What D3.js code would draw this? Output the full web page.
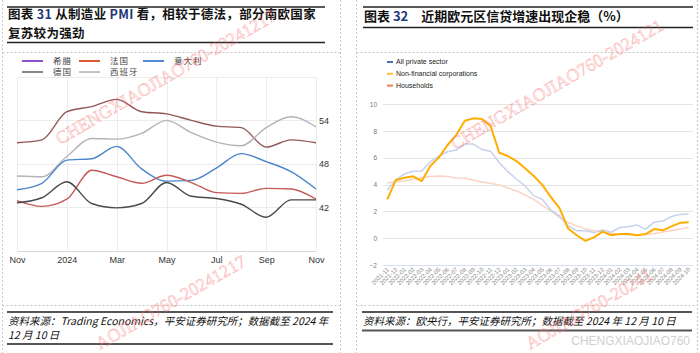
<!DOCTYPE html>
<html>
<head>
<meta charset="utf-8">
<script src="https://cdn.jsdelivr.net/npm/d3@7"></script>
<style>
  body { margin: 0; background: #fff; }
  svg { display: block; font-family: "Noto Sans CJK SC", "Liberation Sans", sans-serif; }
</style>
</head>
<body>
<div id="chart"></div>
<script>
// ---- 图表31 制造业PMI ----
const months = ["2023-11","2023-12","2024-01","2024-02","2024-03","2024-04","2024-05","2024-06","2024-07","2024-08","2024-09","2024-10","2024-11"]
const greece  = [50.9,51.3,55.2,55.9,56.9,55.2,54.9,54.0,53.2,53.0,50.3,51.3,50.9]
const spain   = [46.3,46.2,49.0,51.5,51.4,52.2,54.0,52.3,51.0,50.5,53.0,54.5,53.1]
const italy   = [44.4,45.3,48.5,48.7,50.4,47.3,45.6,45.7,47.4,49.4,48.3,46.9,44.5]
const france  = [42.9,42.1,43.1,47.1,46.2,45.3,46.4,45.4,44.0,43.9,44.6,44.5,43.1]
const germany = [42.6,43.3,45.5,42.5,41.9,42.5,45.4,43.5,43.2,42.4,40.6,43.0,43.0]
const pmiTicks = ["2023-11","2024-01","2024-03","2024-05","2024-07","2024-09","2024-11"]
const pmiTickLabels = ["Nov","2024","Mar","May","Jul","Sep","Nov"]
const pmiYTicks = [36,42,48,54,60]
const pmiYLabels = [42,48,54]

// ---- 图表32 欧元区信贷增速 ----
const creditMonths = ["2021-11","2021-12","2022-01","2022-02","2022-03","2022-04","2022-05","2022-06","2022-07","2022-08","2022-09","2022-10","2022-11","2022-12","2023-01","2023-02","2023-03","2023-04","2023-05","2023-06","2023-07","2023-08","2023-09","2023-10","2023-11","2023-12","2024-01","2024-02","2024-03","2024-04","2024-05","2024-06","2024-07","2024-08","2024-09","2024-10"]
const allPrivate = [3.6,4.35,4.8,5.0,5.02,5.71,6.14,6.46,6.58,7.03,7.03,6.62,6.5,5.64,4.97,4.42,3.9,3.18,2.9,2.1,1.66,0.92,0.55,0.55,0.42,0.62,0.45,0.8,0.85,0.98,0.68,1.2,1.28,1.62,1.78,1.8]
const nonFinancial = [2.9,4.35,4.52,4.62,4.27,5.39,6.04,6.96,7.7,8.77,8.95,8.9,8.37,6.38,6.14,5.76,5.22,4.65,3.98,3.06,2.24,0.72,0.22,-0.2,0.06,0.49,0.22,0.31,0.32,0.22,0.31,0.68,0.59,0.88,1.15,1.2]
const households = [4.15,4.2,4.27,4.4,4.52,4.6,4.65,4.6,4.5,4.47,4.35,4.2,4.1,3.98,3.75,3.53,3.23,2.9,2.45,2.04,1.56,1.17,0.92,0.7,0.55,0.48,0.38,0.3,0.25,0.25,0.27,0.35,0.47,0.58,0.68,0.82]
const creditYTicks = [-2,0,2,4,6,8,10]

const width = 700, height = 353

const svg = d3.select("#chart").append("svg")
  .attr("width", width)
  .attr("height", height)
  .attr("viewBox", [0, 0, width, height])

// 虚线框
const dash = svg.append("g").attr("stroke", "#c8c8c8").attr("stroke-dasharray", "2,2").attr("stroke-width", 1)
;[2.5, 340.5, 356.5, 697.5].forEach(x => dash.append("line").attr("x1", x).attr("x2", x).attr("y1", 0).attr("y2", height))
;[[2.5, 340.5], [356.5, 697.5]].forEach(([a, b]) => {
  dash.append("line").attr("x1", a).attr("x2", b).attr("y1", 52.5).attr("y2", 52.5)
  dash.append("line").attr("x1", a).attr("x2", b).attr("y1", 305.5).attr("y2", 305.5)
})

// 标题
function titleBlock(x1, x2, yBottom) {
  svg.append("line").attr("x1", x1).attr("x2", x2).attr("y1", 7).attr("y2", 7).attr("stroke", "#222").attr("stroke-width", 1.3)
  svg.append("line").attr("x1", x1).attr("x2", x2).attr("y1", yBottom).attr("y2", yBottom).attr("stroke", "#222").attr("stroke-width", 1.3)
}
titleBlock(7, 325, 42.5)
titleBlock(363, 693, 27.5)

const navy = "#1f3a78"
const t1 = svg.append("text").attr("x", 8).attr("y", 19.4).attr("font-size", 12.5).attr("letter-spacing", 0.3).attr("font-weight", "bold").attr("fill", "#111")
t1.append("tspan").text("图表 ")
t1.append("tspan").attr("fill", navy).text("31")
t1.append("tspan").text(" 从制造业 ")
t1.append("tspan").attr("fill", navy).text("PMI")
t1.append("tspan").text(" 看，相较于德法，部分南欧国家")
t1.append("tspan").attr("x", 8).attr("dy", 18.3).text("复苏较为强劲")

const t2 = svg.append("text").attr("x", 364).attr("y", 21).attr("font-size", 13).attr("font-weight", "bold").attr("fill", "#111")
t2.append("tspan").text("图表 ")
t2.append("tspan").attr("fill", navy).text("32")
t2.append("tspan").text("　近期欧元区信贷增速出现企稳（%）")

// ---------- 左图 ----------
const x1 = d3.scalePoint().domain(months).range([17, 316])
const y1 = d3.scaleLinear().domain([36, 60]).range([250.5, 77])

const grid1 = svg.append("g").attr("stroke", "#ececec").attr("stroke-width", 1)
pmiYTicks.forEach(v => grid1.append("line").attr("x1", 17).attr("x2", 316).attr("y1", Math.round(y1(v)) + 0.5).attr("y2", Math.round(y1(v)) + 0.5))
pmiTicks.forEach(m => grid1.append("line").attr("x1", Math.round(x1(m)) + 0.5).attr("x2", Math.round(x1(m)) + 0.5).attr("y1", 77).attr("y2", 250.5))

svg.append("g")
  .attr("transform", "translate(0,251)")
  .call(d3.axisBottom(x1).tickValues(pmiTicks).tickSize(0).tickPadding(6).tickFormat((d, i) => pmiTickLabels[i]))
  .call(g => g.select(".domain").attr("stroke", "#d8d8d8"))
  .call(g => g.selectAll("text").attr("font-size", 9).attr("fill", "#333").attr("font-family", "Liberation Sans, Arial, sans-serif"))

svg.append("g")
  .attr("transform", "translate(316,0)")
  .call(d3.axisRight(y1).tickValues(pmiYLabels).tickSize(0).tickPadding(3))
  .call(g => g.select(".domain").remove())
  .call(g => g.selectAll("text").attr("font-size", 9).attr("fill", "#333").attr("font-family", "Liberation Sans, Arial, sans-serif"))

const pmiSeries = [
  { name: "希腊", values: greece, line: "#935858", key: "#7b3fc2" },
  { name: "西班牙", values: spain, line: "#b4b4b4", key: "#bdbdbd" },
  { name: "意大利", values: italy, line: "#4b86cc", key: "#3d7fd0" },
  { name: "法国", values: france, line: "#c55a58", key: "#d9471f" },
  { name: "德国", values: germany, line: "#4a4a4a", key: "#7a7a7a" }
]
const line1 = d3.line().x((d, i) => x1(months[i])).y(d => y1(d)).curve(d3.curveMonotoneX)
svg.append("g").selectAll("path").data(pmiSeries).join("path")
  .attr("d", s => line1(s.values))
  .attr("fill", "none")
  .attr("stroke", s => s.line)
  .attr("stroke-width", 1.4)

// 图例
const legend1 = [
  { name: "希腊", x: 22, y: 61 }, { name: "法国", x: 79, y: 61 }, { name: "意大利", x: 143, y: 61 },
  { name: "德国", x: 22, y: 72 }, { name: "西班牙", x: 79, y: 72 }
]
const lg1 = svg.append("g").selectAll("g").data(legend1).join("g").attr("transform", d => `translate(${d.x},${d.y})`)
lg1.append("line").attr("x1", 0).attr("x2", 21).attr("stroke-width", 1.8)
  .attr("stroke", d => pmiSeries.find(s => s.name === d.name).key)
lg1.append("text").attr("x", 31).attr("dy", "0.35em").attr("font-size", 8.5).attr("letter-spacing", 1).attr("fill", "#444").text(d => d.name)

// ---------- 右图 ----------
const x2 = d3.scaleBand().domain(creditMonths).range([383, 693])
const y2 = d3.scaleLinear().domain([-2, 10]).range([265, 104.3])
const cx = d => x2(d) + x2.bandwidth() / 2

svg.append("g").selectAll("line").data(creditYTicks).join("line")
  .attr("x1", 383).attr("x2", 693)
  .attr("y1", d => Math.round(y2(d)) + 0.5).attr("y2", d => Math.round(y2(d)) + 0.5)
  .attr("stroke", d => d === -2 ? "#d6dff0" : "#e4e4e4")
  .attr("stroke-width", 1.2)

svg.append("g")
  .attr("transform", "translate(383,0)")
  .call(d3.axisLeft(y2).tickValues(creditYTicks).tickSize(0).tickPadding(6))
  .call(g => g.select(".domain").remove())
  .call(g => g.selectAll("text").attr("font-size", 6.5).attr("fill", "#777").attr("font-family", "Liberation Sans, Arial, sans-serif"))

svg.append("g").selectAll("text").data(creditMonths).join("text")
  .attr("transform", d => `translate(${cx(d) + 2},270) rotate(-45)`)
  .attr("text-anchor", "end")
  .attr("font-size", 6)
  .attr("fill", "#888")
  .attr("font-family", "Liberation Sans, Arial, sans-serif")
  .text(d => d)

const creditSeries = [
  { name: "Households", values: households, line: "#fbd3c4", key: "#f08050", w: 1.5 },
  { name: "All private sector", values: allPrivate, line: "#c8d1ec", key: "#4a6fc2", w: 1.5 },
  { name: "Non-financial corporations", values: nonFinancial, line: "#ffad00", key: "#ffc425", w: 2 }
]
const line2 = d3.line().x((d, i) => cx(creditMonths[i])).y(d => y2(d))
svg.append("g").selectAll("path").data(creditSeries).join("path")
  .attr("d", s => line2(s.values))
  .attr("fill", "none")
  .attr("stroke", s => s.line)
  .attr("stroke-width", s => s.w)
  .attr("stroke-linejoin", "round")

const legend2 = ["All private sector", "Non-financial corporations", "Households"]
const lg2 = svg.append("g").selectAll("g").data(legend2).join("g").attr("transform", (d, i) => `translate(387,${62 + i * 11.8})`)
lg2.append("line").attr("x1", 0).attr("x2", 6).attr("stroke-width", 2)
  .attr("stroke", d => creditSeries.find(s => s.name === d).key)
lg2.append("text").attr("x", 9).attr("dy", "0.35em").attr("font-size", 7).attr("fill", "#222")
  .attr("font-family", "Liberation Sans Narrow, Arial Narrow, Liberation Sans, sans-serif").text(d => d)

// ---------- 资料来源 ----------
const foot = svg.append("g").attr("stroke", "#555").attr("stroke-width", 1.8)
foot.append("line").attr("x1", 7).attr("x2", 333).attr("y1", 312).attr("y2", 312)
foot.append("line").attr("x1", 7).attr("x2", 333).attr("y1", 344).attr("y2", 344)
foot.append("line").attr("x1", 362).attr("x2", 692).attr("y1", 312).attr("y2", 312)
foot.append("line").attr("x1", 362).attr("x2", 692).attr("y1", 330.5).attr("y2", 330.5)

const footStyle = s => s.attr("font-size", 10.5).attr("font-style", "italic").attr("fill", "#111")
svg.append("text").attr("x", 8).attr("y", 325).call(footStyle).text("资料来源：Trading Economics，平安证券研究所；数据截至 2024 年")
svg.append("text").attr("x", 8).attr("y", 339).call(footStyle).text("12 月 10 日")
svg.append("text").attr("x", 363).attr("y", 325).call(footStyle).text("资料来源：欧央行，平安证券研究所；数据截至 2024 年 12 月 10 日")
svg.append("text").attr("x", 690).attr("y", 345).attr("text-anchor", "end").attr("font-size", 12)
  .attr("fill", "#d0d0d0").attr("font-family", "Liberation Sans, Arial, sans-serif").text("CHENGXIAOJIAO760")

// 水印
const marks = [
  { x: 60, y: 145, t: "CHENGXIAOJIAO760-20241217" },
  { x: 455, y: 150, t: "CHENGXIAOJIAO760-2024121" },
  { x: 100, y: 350, t: "AOJIAO760-20241217" },
  { x: 530, y: 350, t: "AOJIAO760-20241" }
]
svg.append("g").selectAll("text").data(marks).join("text")
  .attr("transform", d => `translate(${d.x},${d.y}) rotate(-30)`)
  .attr("font-size", 18)
  .attr("font-family", "Liberation Serif, serif")
  .attr("fill", "rgba(255,120,120,0.12)")
  .attr("stroke", "rgba(245,110,110,0.45)")
  .attr("stroke-width", 0.6)
  .text(d => d.t)
</script>
</body>
</html>
